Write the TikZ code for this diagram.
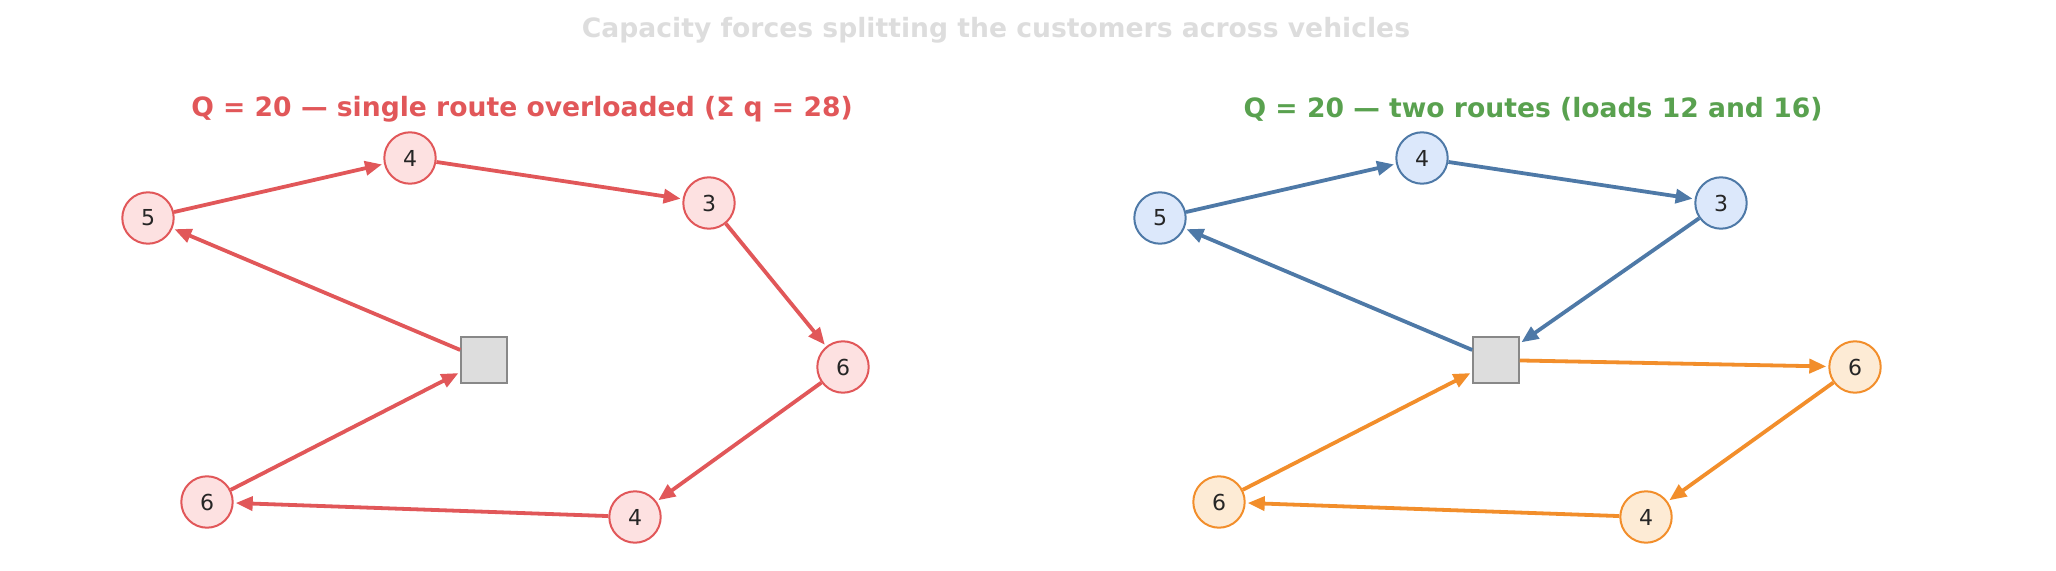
\documentclass[tikz,border=0pt]{standalone}
\usepackage{fontspec}
\setmainfont{DejaVu Sans}
\usetikzlibrary{arrows.meta}

\definecolor{routered}{HTML}{E15759}
\definecolor{redfill}{HTML}{FDE1E1}
\definecolor{routeblue}{HTML}{4E79A7}
\definecolor{bluefill}{HTML}{DCE8FB}
\definecolor{routeorange}{HTML}{F28E2B}
\definecolor{orangefill}{HTML}{FDEBD5}
\definecolor{okgreen}{HTML}{59A14F}
\definecolor{depotfill}{HTML}{DDDDDD}
\definecolor{depotline}{HTML}{888888}
\definecolor{titlegray}{HTML}{DDDDDD}

\tikzset{
  customer/.style={circle, draw, line width=1bp, minimum size=25.7bp, inner sep=0pt,
    font=\fontsize{11bp}{13bp}\selectfont, text=black!85},
  redcust/.style={customer, draw=routered, fill=redfill},
  bluecust/.style={customer, draw=routeblue, fill=bluefill},
  orangecust/.style={customer, draw=routeorange, fill=orangefill},
  depot/.style={rectangle, draw=depotline, fill=depotfill, line width=1bp,
    minimum size=22.75bp, inner sep=0pt},
  leg/.style={line width=1.9bp, -{Triangle[length=8.5bp,width=7bp]}, shorten >=1bp},
  headline/.style={font=\fontsize{13.3bp}{16bp}\selectfont\bfseries}
}

\begin{document}
\begin{tikzpicture}[x=0.5bp, y=-0.5bp]
  \useasboundingbox (0,0) rectangle (2056,571);

  % Titles
  \node[headline, text=titlegray] (title) at (996,30) {Capacity forces splitting the customers across vehicles};
  \node[headline, text=routered] (lefttitle) at (522,109) {Q = 20 — single route overloaded (Σ q = 28)};
  \node[headline, text=okgreen] (righttitle) at (1533,109) {Q = 20 — two routes (loads 12 and 16)};

  % Single overloaded route
  \node[depot] (d) at (484,360) {};
  \node[redcust] (a5) at (148,218) {5};
  \node[redcust] (a4) at (410,158) {4};
  \node[redcust] (a3) at (709,203) {3};
  \node[redcust] (a6) at (843,367) {6};
  \node[redcust] (b4) at (635,517) {4};
  \node[redcust] (b6) at (207,502) {6};

  \draw[leg, routered] (d) -- (a5);
  \draw[leg, routered] (a5) -- (a4);
  \draw[leg, routered] (a4) -- (a3);
  \draw[leg, routered] (a3) -- (a6);
  \draw[leg, routered] (a6) -- (b4);
  \draw[leg, routered] (b4) -- (b6);
  \draw[leg, routered] (b6) -- (d);

  % Two routes
  \node[depot] (e) at (1496,360) {};
  \node[bluecust] (c5) at (1160,218) {5};
  \node[bluecust] (c4) at (1422,158) {4};
  \node[bluecust] (c3) at (1721,203) {3};
  \node[orangecust] (c6) at (1855,367) {6};
  \node[orangecust] (e4) at (1646,517) {4};
  \node[orangecust] (e6) at (1219,502) {6};

  \draw[leg, routeblue] (e) -- (c5);
  \draw[leg, routeblue] (c5) -- (c4);
  \draw[leg, routeblue] (c4) -- (c3);
  \draw[leg, routeblue] (c3) -- (e);
  \draw[leg, routeorange] (e) -- (c6);
  \draw[leg, routeorange] (c6) -- (e4);
  \draw[leg, routeorange] (e4) -- (e6);
  \draw[leg, routeorange] (e6) -- (e);
\end{tikzpicture}
\end{document}
